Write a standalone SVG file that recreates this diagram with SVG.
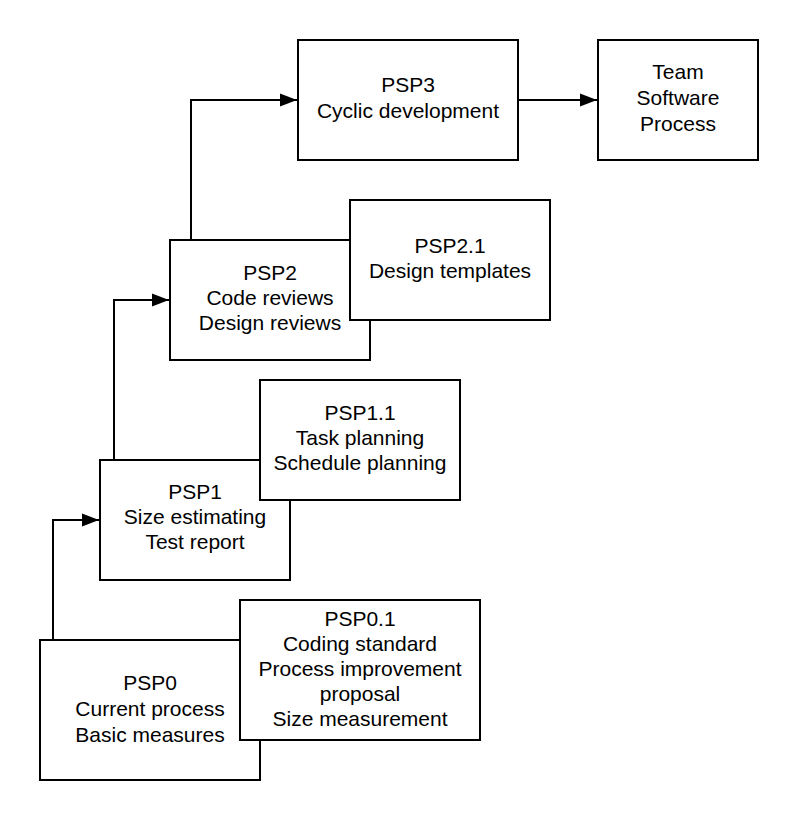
<svg xmlns="http://www.w3.org/2000/svg" width="798" height="820" viewBox="0 0 798 820">
<defs>
<marker id="arr" markerUnits="userSpaceOnUse" markerWidth="18" markerHeight="14" refX="17" refY="7" orient="auto">
<path d="M0,0.5 L17,7 L0,13.5 z" fill="#000"/>
</marker>
<style>
rect{fill:#fff;stroke:#000;stroke-width:2}
text{font-family:"Liberation Sans",Arial,sans-serif;font-size:21px;fill:#000;text-anchor:middle}
.c{fill:none;stroke:#000;stroke-width:2;marker-end:url(#arr)}
</style>
</defs>
<rect x="0" y="0" width="798" height="820" style="stroke:none"/>
<g id="connectors">
<path class="c" d="M53,640 V520 H99"/>
<path class="c" d="M114,460 V300 H169"/>
<path class="c" d="M191,240 V100 H297"/>
<path class="c" d="M518,100 H597"/>
</g>
<g id="psp0"><rect x="40" y="640" width="220" height="140"/>
<text x="150" y="690">PSP0</text><text x="150" y="716">Current process</text><text x="150" y="742">Basic measures</text></g>
<g id="psp01"><rect x="240" y="600" width="240" height="140"/>
<text x="360" y="626">PSP0.1</text><text x="360" y="651">Coding standard</text><text x="360" y="676">Process improvement</text><text x="360" y="701">proposal</text><text x="360" y="726">Size measurement</text></g>
<g id="psp1"><rect x="100" y="460" width="190" height="120"/>
<text x="195" y="499">PSP1</text><text x="195" y="524">Size estimating</text><text x="195" y="549">Test report</text></g>
<g id="psp11"><rect x="260" y="380" width="200" height="120"/>
<text x="360" y="420">PSP1.1</text><text x="360" y="445">Task planning</text><text x="360" y="470">Schedule planning</text></g>
<g id="psp2"><rect x="170" y="240" width="200" height="120"/>
<text x="270" y="280">PSP2</text><text x="270" y="305">Code reviews</text><text x="270" y="330">Design reviews</text></g>
<g id="psp21"><rect x="350" y="200" width="200" height="120"/>
<text x="450" y="253">PSP2.1</text><text x="450" y="278">Design templates</text></g>
<g id="psp3"><rect x="298" y="40" width="220" height="120"/>
<text x="408" y="92">PSP3</text><text x="408" y="118">Cyclic development</text></g>
<g id="tsp"><rect x="598" y="40" width="160" height="120"/>
<text x="678" y="79">Team</text><text x="678" y="105">Software</text><text x="678" y="131">Process</text></g>
</svg>
